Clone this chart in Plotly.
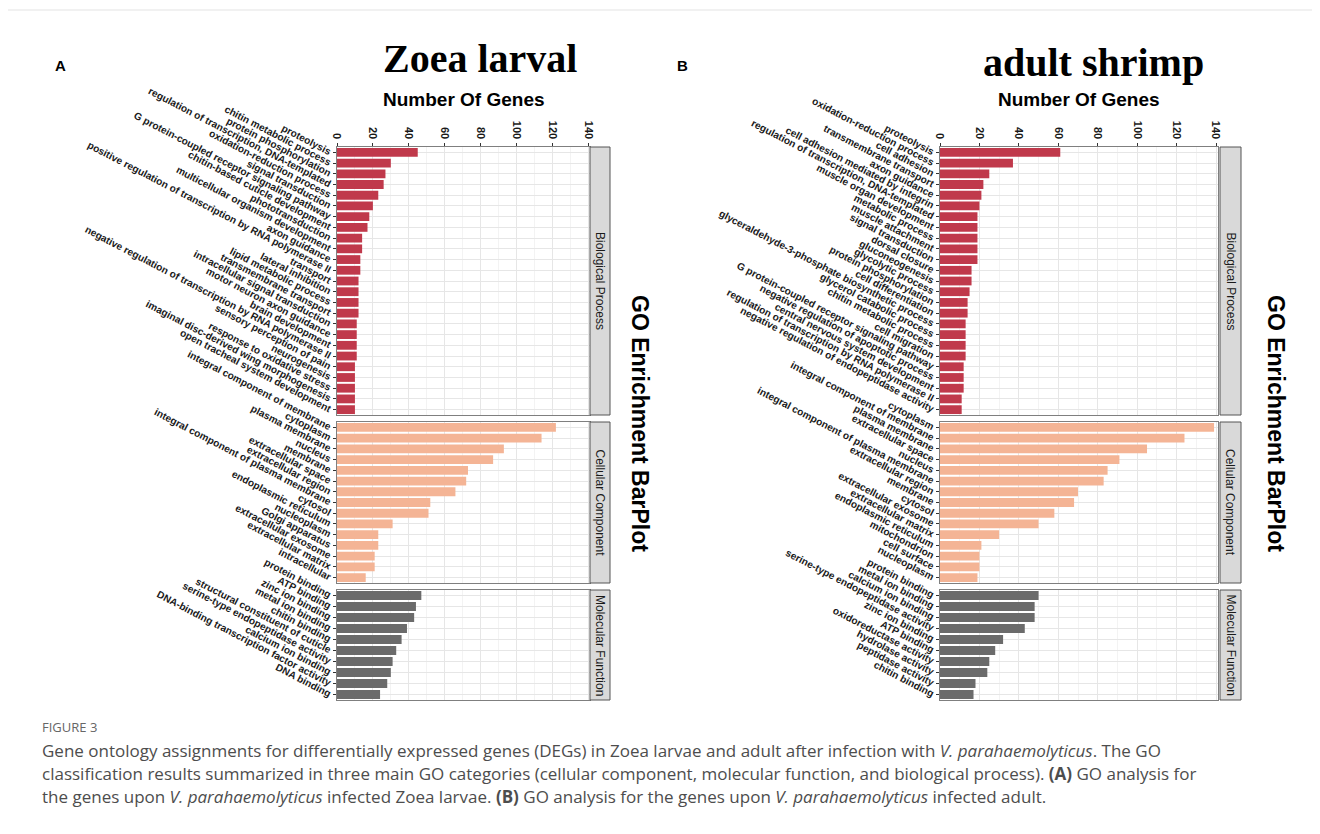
import plotly.graph_objects as go

# Page has an 8px body margin; figure sized to fit the 1320x834 window.
OFF = 8
W, H = 1304, 818

# ---------------- data ----------------
zoea_bp_terms = [
    "proteolysis", "chitin metabolic process", "protein phosphorylation",
    "regulation of transcription, DNA-templated", "oxidation-reduction process",
    "signal transduction", "G protein-coupled receptor signaling pathway",
    "chitin-based cuticle development", "phototransduction",
    "multicellular organism development", "axon guidance",
    "positive regulation of transcription by RNA polymerase II", "transport",
    "lateral inhibition", "lipid metabolic process", "transmembrane transport",
    "intracellular signal transduction", "motor neuron axon guidance",
    "brain development", "negative regulation of transcription by RNA polymerase II",
    "sensory perception of pain", "neurogenesis", "response to oxidative stress",
    "imaginal disc-derived wing morphogenesis", "open tracheal system development",
]
zoea_bp_counts = [45, 30, 27, 26, 23, 20, 18, 17, 14, 14, 13, 13, 12, 12, 12,
                  12, 11, 11, 11, 11, 10, 10, 10, 10, 10]

zoea_cc_terms = [
    "integral component of membrane", "cytoplasm", "plasma membrane", "nucleus",
    "membrane", "extracellular space", "extracellular region",
    "integral component of plasma membrane", "cytosol", "endoplasmic reticulum",
    "nucleoplasm", "Golgi apparatus", "extracellular exosome",
    "extracellular matrix", "intracellular",
]
zoea_cc_counts = [122, 114, 93, 87, 73, 72, 66, 52, 51, 31, 23, 23, 21, 21, 16]

zoea_mf_terms = [
    "protein binding", "ATP binding", "zinc ion binding", "metal ion binding",
    "chitin binding", "structural constituent of cuticle",
    "serine-type endopeptidase activity", "calcium ion binding",
    "DNA-binding transcription factor activity", "DNA binding",
]
zoea_mf_counts = [47, 44, 43, 39, 36, 33, 31, 30, 28, 24]

adult_bp_terms = [
    "proteolysis", "oxidation-reduction process", "cell adhesion",
    "transmembrane transport", "axon guidance", "cell adhesion mediated by integrin",
    "regulation of transcription, DNA-templated", "muscle organ development",
    "metabolic process", "muscle attachment", "signal transduction",
    "dorsal closure", "gluconeogenesis", "glycolytic process",
    "protein phosphorylation", "cell differentiation",
    "glyceraldehyde-3-phosphate biosynthetic process", "glycerol catabolic process",
    "chitin metabolic process", "cell migration",
    "G protein-coupled receptor signaling pathway",
    "negative regulation of apoptotic process",
    "central nervous system development",
    "regulation of transcription by RNA polymerase II",
    "negative regulation of endopeptidase activity",
]
adult_bp_counts = [61, 37, 25, 22, 21, 20, 19, 19, 19, 19, 19, 16, 16, 15, 14,
                   14, 13, 13, 13, 13, 12, 12, 12, 11, 11]

adult_cc_terms = [
    "cytoplasm", "integral component of membrane", "plasma membrane",
    "extracellular space", "nucleus", "integral component of plasma membrane",
    "extracellular region", "membrane", "cytosol", "extracellular exosome",
    "extracellular matrix", "endoplasmic reticulum", "mitochondrion",
    "cell surface", "nucleoplasm",
]
adult_cc_counts = [139, 124, 105, 91, 85, 83, 70, 68, 58, 50, 30, 21, 20, 20, 19]

adult_mf_terms = [
    "protein binding", "metal ion binding", "calcium ion binding",
    "serine-type endopeptidase activity", "zinc ion binding", "ATP binding",
    "oxidoreductase activity", "hydrolase activity", "peptidase activity",
    "chitin binding",
]
adult_mf_counts = [50, 48, 48, 43, 32, 28, 25, 24, 18, 17]

x_ticks = [0, 20, 40, 60, 80, 100, 120, 140]
facet_names = ["Biological Process", "Cellular Component", "Molecular Function"]
facet_colors = ["#C0394B", "#F4B495", "#6B6B6B"]

# ---------------- layout geometry (page pixels) ----------------
panels_x = [(337, 590), (940, 1218)]
strips_x = [(590, 610), (1220, 1241)]
facets_y = [(147, 415), (422, 583), (590, 700)]


def px(x):
    return (x - OFF) / W


def py(y):
    return 1 - (y - OFF) / H


fig = go.Figure()
data_sets = [
    [(zoea_bp_terms, zoea_bp_counts), (zoea_cc_terms, zoea_cc_counts), (zoea_mf_terms, zoea_mf_counts)],
    [(adult_bp_terms, adult_bp_counts), (adult_cc_terms, adult_cc_counts), (adult_mf_terms, adult_mf_counts)],
]

layout = dict(
    width=W, height=H, margin=dict(l=0, r=0, t=0, b=0, autoexpand=False),
    paper_bgcolor="white", plot_bgcolor="white", showlegend=False,
    bargap=0.18,
)
shapes = []
annotations = []

idx = 0
for p, panel in enumerate(data_sets):
    for f, (terms, counts) in enumerate(panel):
        idx += 1
        sx = "" if idx == 1 else str(idx)
        fig.add_trace(go.Bar(
            x=counts, y=terms, orientation="h",
            marker=dict(color=facet_colors[f], line=dict(width=0)),
            xaxis="x" + sx, yaxis="y" + sx, hoverinfo="x+y",
        ))
        top = f == 0
        layout["xaxis" + sx] = dict(
            domain=[px(panels_x[p][0]), px(panels_x[p][1])],
            anchor="y" + sx, range=[0, 141], side="top", automargin=False,
            tickmode="array", tickvals=x_ticks, ticktext=[str(t) for t in x_ticks],
            showticklabels=top, ticks="outside" if top else "",
            ticklen=3, tickcolor="#333333", tickangle=90,
            tickfont=dict(family="Liberation Sans", size=11, color="#1a1a1a", weight="bold"),
            showgrid=True, gridcolor="#E6E6E6", gridwidth=1,
            minor=dict(dtick=10, tick0=0, showgrid=True, gridcolor="#F3F3F3", gridwidth=0.6),
            showline=True, mirror=True, linecolor="#7F7F7F", linewidth=1,
            zeroline=False, fixedrange=True,
        )
        layout["yaxis" + sx] = dict(
            domain=[py(facets_y[f][1]), py(facets_y[f][0])],
            anchor="x" + sx, type="category", automargin=False,
            categoryorder="array", categoryarray=terms,
            tickmode="array", tickvals=terms, ticktext=terms,
            autorange="reversed",
            ticks="outside", ticklen=3, tickcolor="#333333",
            tickangle=27.5,
            tickfont=dict(family="Liberation Sans", size=10.1, color="#1a1a1a", weight="bold"),
            showgrid=True, gridcolor="#E6E6E6",
            showline=True, mirror=True, linecolor="#7F7F7F", linewidth=1,
            zeroline=False, fixedrange=True,
        )
        # strip
        x0, x1 = strips_x[p]
        y0, y1 = facets_y[f]
        shapes.append(dict(type="rect", xref="paper", yref="paper",
                           x0=px(x0), x1=px(x1), y0=py(y1), y1=py(y0),
                           fillcolor="#D9D9D9", line=dict(color="#555555", width=1)))
        annotations.append(dict(xref="paper", yref="paper", x=px((x0 + x1) / 2),
                                y=py((y0 + y1) / 2), text=facet_names[f], textangle=90,
                                showarrow=False, xanchor="center", yanchor="middle",
                                font=dict(family="Liberation Sans", size=12, color="#1a1a1a")))

# titles
for p, (title, cx, cy) in enumerate([("Zoea larval", 480, 58), ("adult shrimp", 1093, 62)]):
    annotations.append(dict(xref="paper", yref="paper", x=px(cx), y=py(cy), text="<b>%s</b>" % title,
                            showarrow=False, xanchor="center", yanchor="middle",
                            font=dict(family="Liberation Serif", size=40, color="#000000")))
for letter, lx in [("A", 60), ("B", 682)]:
    annotations.append(dict(xref="paper", yref="paper", x=px(lx), y=py(65), text="<b>%s</b>" % letter,
                            showarrow=False, xanchor="center", yanchor="middle",
                            font=dict(family="Liberation Sans", size=15, color="#000000")))
for p in range(2):
    cx = (panels_x[p][0] + panels_x[p][1]) / 2
    annotations.append(dict(xref="paper", yref="paper", x=px(cx), y=py(100), text="<b>Number Of Genes</b>",
                            showarrow=False, xanchor="center", yanchor="middle",
                            font=dict(family="Liberation Sans", size=19, color="#000000")))
for gx in [640, 1276]:
    annotations.append(dict(xref="paper", yref="paper", x=px(gx), y=py(423), text="<b>GO Enrichment BarPlot</b>",
                            textangle=90, showarrow=False, xanchor="center", yanchor="middle",
                            font=dict(family="Liberation Sans", size=23, color="#000000")))

# caption
caption_lines = [
    "Gene ontology assignments for differentially expressed genes (DEGs) in Zoea larvae and adult after infection with <i>V. parahaemolyticus</i>. The GO",
    "classification results summarized in three main GO categories (cellular component, molecular function, and biological process). <b>(A)</b> GO analysis for",
    "the genes upon <i>V. parahaemolyticus</i> infected Zoea larvae. <b>(B)</b> GO analysis for the genes upon <i>V. parahaemolyticus</i> infected adult.",
]
annotations.append(dict(xref="paper", yref="paper", x=px(40), y=py(727), text="FIGURE 3",
                        showarrow=False, xanchor="left", yanchor="middle",
                        font=dict(family="Open Sans", size=13, color="#666666")))
for i, line in enumerate(caption_lines):
    annotations.append(dict(xref="paper", yref="paper", x=px(40), y=py(750 + 23 * i), text=line,
                            showarrow=False, xanchor="left", yanchor="middle",
                            font=dict(family="Open Sans", size=17, color="#4D4D4D")))

shapes.append(dict(type="line", xref="paper", yref="paper", x0=0, x1=1, y0=py(10), y1=py(10),
                   line=dict(color="#E3E3E3", width=1)))

layout["shapes"] = shapes
layout["annotations"] = annotations
fig.update_layout(**layout)
fig.write_html("out.html")
